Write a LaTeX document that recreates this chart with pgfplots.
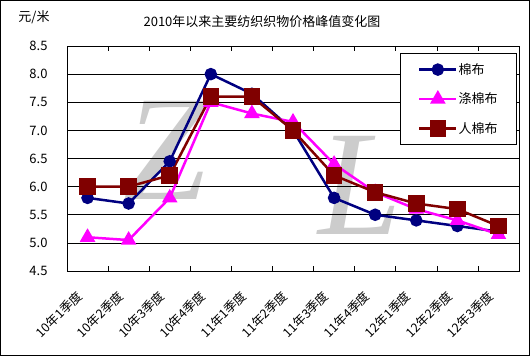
\documentclass[border=0pt]{standalone}
\usepackage{pgfplots}
\pgfplotsset{compat=1.18}
\usepackage{fontspec}
\setmainfont{Noto Sans CJK SC}
\newfontfamily\wm{Liberation Serif}
\definecolor{cnavy}{RGB}{0,0,128}
\definecolor{cmag}{RGB}{255,0,255}
\definecolor{cred}{RGB}{128,0,0}
\begin{document}
\begin{tikzpicture}
\useasboundingbox (0pt,0pt) rectangle (530pt,-356pt);
\draw[black, line width=0.8pt] (0.5pt,-0.5pt) rectangle (529.5pt,-355.5pt);
\node[font=\fontsize{13}{15}\selectfont] at (262pt,-22pt) {2010年以来主要纺织织物价格峰值变化图};
\node[font=\fontsize{13}{15}\selectfont] at (34pt,-17pt) {元/米};
\node[text=gray!40, font=\wm\itshape\fontsize{150}{150}\selectfont] at (165pt,-150pt) {Z};
\node[text=gray!40, font=\wm\itshape\fontsize{150}{150}\selectfont] at (360pt,-185pt) {L};
\begin{axis}[
  at={(67pt,-271pt)}, anchor=south west,
  scale only axis, width=452pt, height=225pt,
  xmin=-0.5, xmax=10.5, ymin=4.5, ymax=8.5,
  ytick={4.5,5,5.5,6,6.5,7,7.5,8,8.5},
  ymajorgrids, grid style={black, line width=0.6pt},
  axis line style={black, line width=0.8pt},
  major tick length=0pt,
  yticklabel style={font=\fontsize{13}{15}\selectfont, xshift=-16pt,
    /pgf/number format/.cd, fixed, fixed zerofill, precision=1, assume math mode=true},
  xtick={0,...,10},
  xticklabels={10年1季度,10年2季度,10年3季度,10年4季度,11年1季度,11年2季度,11年3季度,11年4季度,12年1季度,12年2季度,12年3季度},
  minor xtick={0.5,1.5,...,9.5},
  minor tick length=5pt, tick align=inside,
  xticklabel style={font=\fontsize{12.5}{14}\selectfont, xshift=-7pt, yshift=-22pt, rotate=45, anchor=east, inner sep=1pt},
  tick style={black, line width=0.6pt},
  legend style={at={(0.9956,0.969)}, anchor=north east, draw=black, line width=0.8pt, fill=white,
    font=\fontsize{13}{15}\selectfont, inner xsep=18pt, inner ysep=9pt, row sep=15pt,
    nodes={inner sep=1pt}},
  legend cell align=left,
  legend image code/.code={\draw[#1, mark repeat=2, mark phase=2] plot coordinates {(0pt,0pt) (18.5pt,0pt) (37pt,0pt)};},
]
\addplot[color=cnavy, line width=2.5pt, mark=*, mark size=5pt, mark options={solid}] coordinates {
 (0,5.8) (1,5.7) (2,6.45) (3,8.0) (4,7.65) (5,7.0) (6,5.8) (7,5.5) (8,5.4) (9,5.3) (10,5.2)};
\addlegendentry{棉布}
\addplot[color=cmag, line width=2.5pt, mark=triangle*, mark size=6.5pt, mark options={solid}] coordinates {
 (0,5.1) (1,5.05) (2,5.8) (3,7.5) (4,7.3) (5,7.15) (6,6.4) (7,5.9) (8,5.6) (9,5.4) (10,5.15)};
\addlegendentry{涤棉布}
\addplot[color=cred, line width=2.5pt, mark=square*, mark size=7pt, mark options={solid}] coordinates {
 (0,6.0) (1,6.0) (2,6.2) (3,7.6) (4,7.6) (5,7.0) (6,6.2) (7,5.9) (8,5.7) (9,5.6) (10,5.3)};
\addlegendentry{人棉布}
\end{axis}
\end{tikzpicture}
\end{document}
